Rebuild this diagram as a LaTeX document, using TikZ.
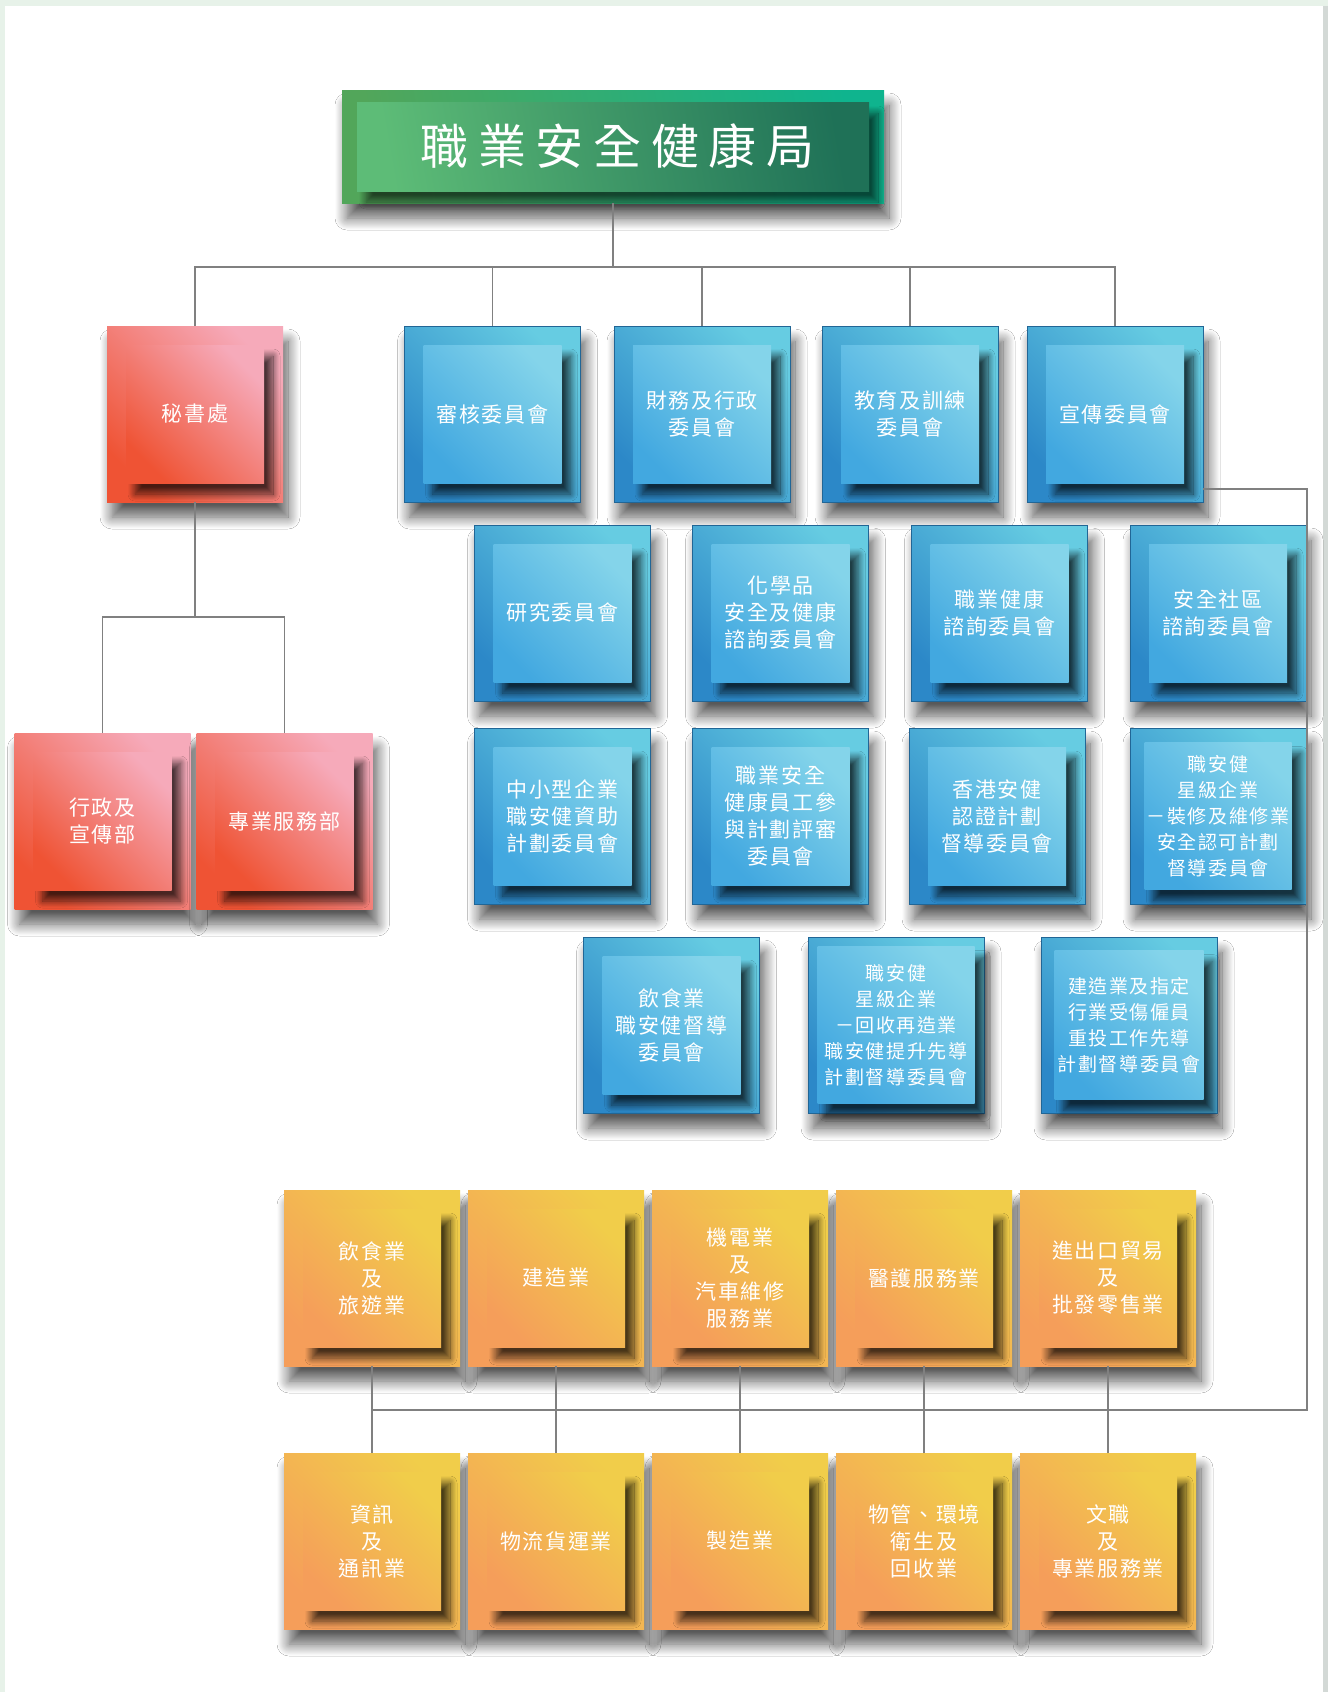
\documentclass[tikz,border=0pt]{standalone}
\usepackage{fontspec}
\newfontfamily\cjk[LetterSpace=8]{Noto Sans CJK TC}
\newfontfamily\cjkwide[LetterSpace=20]{Noto Sans CJK TC}
\usetikzlibrary{shadows.blur}

\definecolor{framegreen}{HTML}{E7F2E9}
\definecolor{framegrey}{HTML}{D3D9D6}
\definecolor{linegrey}{HTML}{808080}
\definecolor{redlo}{HTML}{EF5334}
\definecolor{redhi}{HTML}{F6AABA}
\definecolor{bluelo}{HTML}{2C88C8}
\definecolor{bluehi}{HTML}{66CCE2}
\definecolor{blueinlo}{HTML}{42A8E0}
\definecolor{blueinhi}{HTML}{84D4EA}
\definecolor{orangelo}{HTML}{F59E5A}
\definecolor{orangehi}{HTML}{F1CD4A}
\definecolor{greenlo}{HTML}{52A65A}
\definecolor{greenhi}{HTML}{0FB48E}
\definecolor{greeninlo}{HTML}{5DBC77}
\definecolor{greeninhi}{HTML}{1F7157}

\tikzset{
	conn/.style={draw=linegrey, line width=1.2pt},
	boxout/.style={minimum width=176pt, minimum height=176pt, inner sep=0pt, outer sep=0pt,
		blur shadow={shadow xshift=5pt, shadow yshift=-15pt, shadow blur radius=12pt, shadow blur steps=16, shadow opacity=65}},
	boxin/.style={minimum width=138pt, minimum height=138pt, inner sep=0pt, outer sep=0pt,
		text=white, align=center, font=\cjk\fontsize{21}{27}\selectfont,
		blur shadow={shadow xshift=9pt, shadow yshift=-11pt, shadow blur radius=7pt, shadow blur steps=16, shadow opacity=70}},
	redout/.style={boxout, left color=redlo, right color=redhi, shading angle=135},
	redin/.style={boxin, left color=redlo, right color=redhi, shading angle=135},
	blueout/.style={boxout, draw=bluelo!75!black, line width=0.6pt, left color=bluelo, right color=bluehi, shading angle=135},
	bluein/.style={boxin, left color=blueinlo, right color=blueinhi, shading angle=135},
	orangeout/.style={boxout, left color=orangelo, right color=orangehi, shading angle=135},
	orangein/.style={boxin, left color=orangelo, right color=orangehi, shading angle=135},
	smalltext/.style={font=\cjk\fontsize{19}{26}\selectfont},
}

\begin{document}
\begin{tikzpicture}[x=1pt,y=-1pt]
	\useasboundingbox (0,0) rectangle (1328,1692);
	\fill[framegreen] (0,0) rectangle (1328,1692);% page frame
	\fill[framegrey] (1323,6) rectangle (1328,1692);
	\fill[white] (5,6) rectangle (1323,1692);

	% head office
	\node[minimum width=542pt, minimum height=113pt, inner sep=0pt, outer sep=0pt,
		left color=greenlo, right color=greenhi, shading angle=100,
		blur shadow={shadow xshift=5pt, shadow yshift=-15pt, shadow blur radius=12pt, shadow blur steps=16, shadow opacity=65}] (ohs) at (613,146.5) {};
	\node[minimum width=512pt, minimum height=89pt, inner sep=0pt, outer sep=0pt,
		left color=greeninlo, right color=greeninhi, shading angle=100, text=white,
		font=\cjkwide\fontsize{48}{50}\selectfont,
		blur shadow={shadow xshift=9pt, shadow yshift=-11pt, shadow blur radius=7pt, shadow blur steps=16, shadow opacity=60}] (ohs-t) at (ohs) {\hspace*{9pt}職業安全健康局};

	% secretariat and its two divisions
	\node[redout] (sec) at (195,414) {};
	\node[redin] (sec-t) at (sec) {秘書處};
	\node[redout] (admin) at (102.5,821) {};
	\node[redin] (admin-t) at (admin) {行政及\\宣傳部};
	\node[redout] (prof) at (284.5,821) {};
	\node[redin] (prof-t) at (prof) {專業服務部};

	% committees
	\foreach \n/\x/\y/\t in {
		audit/492.5/414/{審核委員會},
		finance/702/414/{財務及行政\\委員會},
		edu/910/414/{教育及訓練\\委員會},
		promo/1115/414/{宣傳委員會},
		research/562.5/613/{研究委員會},
		chem/780.5/613/{化學品\\安全及健康\\諮詢委員會},
		health/999.5/613/{職業健康\\諮詢委員會},
		community/1218/613/{安全社區\\諮詢委員會},
		sme/562.5/816/{中小型企業\\職安健資助\\計劃委員會},
		engage/780.5/816/{職業安全\\健康員工參\\與計劃評審\\委員會},
		cert/997/816/{香港安健\\認證計劃\\督導委員會},
		catering/671.5/1025/{飲食業\\職安健督導\\委員會}} {
		\node[blueout] (\n) at (\x,\y) {};
		\node[bluein] (\n-t) at (\n) {\t};
	}
	\node[blueout] (renovate) at (1218,816) {};
	\node[bluein, smalltext, minimum width=147pt, minimum height=147pt] (renovate-t) at (renovate) {職安健\\星級企業\\－裝修及維修業\\安全認可計劃\\督導委員會};
	\node[blueout] (recycle) at (896,1025) {};
	\node[bluein, smalltext, minimum width=157pt, minimum height=157pt] (recycle-t) at (recycle) {職安健\\星級企業\\－回收再造業\\職安健提升先導\\計劃督導委員會};
	\node[blueout] (rtw) at (1129,1025) {};
	\node[bluein, smalltext, minimum width=149pt, minimum height=149pt] (rtw-t) at (rtw) {建造業及指定\\行業受傷僱員\\重投工作先導\\計劃督導委員會};

	% industry committees
	\foreach \i/\x/\t in {1/372/{飲食業\\及\\旅遊業}, 2/556/{建造業}, 3/740/{機電業\\及\\汽車維修\\服務業}, 4/924/{醫護服務業}, 5/1108/{進出口貿易\\及\\批發零售業}} {
		\node[orangeout] (top\i) at (\x,1278) {};
		\node[orangein] (top\i-t) at (top\i) {\t};
	}
	\foreach \i/\x/\t in {1/372/{資訊\\及\\通訊業}, 2/556/{物流貨運業}, 3/740/{製造業}, 4/924/{物管、環境\\衛生及\\回收業}, 5/1108/{文職\\及\\專業服務業}} {
		\node[orangeout] (bot\i) at (\x,1541) {};
		\node[orangein] (bot\i-t) at (bot\i) {\t};
	}

	% connectors
	\foreach \n in {sec, audit, finance, edu, promo}
		\draw[conn] (ohs.south) -- ++(0,64) -| (\n.north);
	\foreach \n in {admin, prof}
		\draw[conn] (sec.south) -- ++(0,115) -| (\n.north);
	\coordinate (bus) at (1307,1410);% corner of the right hand line
	\draw[conn] ([yshift=13pt]promo.south east) -| (bus) -- (bus -| top1.south);
	\foreach \i in {1,...,5} {
		\draw[conn] (top\i.south) -- (top\i.south |- bus);
		\draw[conn] (bot\i.north) -- (bot\i.north |- bus);
	}
\end{tikzpicture}
\end{document}
